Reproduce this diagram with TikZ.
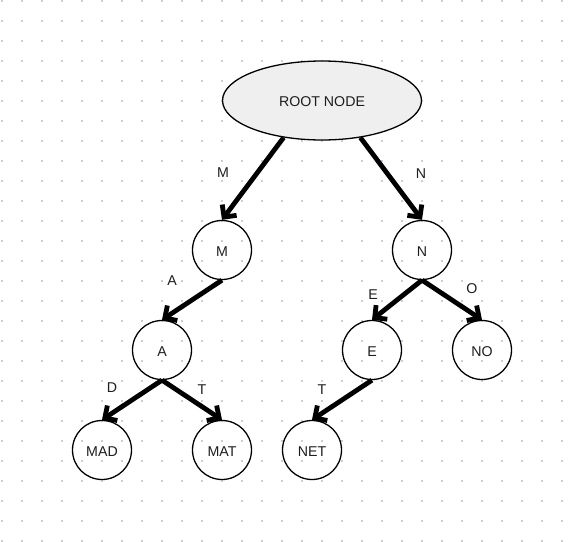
\documentclass[tikz,border=0pt]{standalone}
\usepackage{fontspec}
\setmainfont{Liberation Sans}
\usetikzlibrary{arrows.meta,shapes.geometric}
\definecolor{griddot}{HTML}{C9CDD9}
\definecolor{rootfill}{HTML}{F0EFF0}
\definecolor{inkgray}{HTML}{1E1E1E}
\begin{document}
\begin{tikzpicture}[x=1pt,y=-1pt,
  font=\fontsize{14.2}{16}\selectfont,
  every node/.style={text=inkgray},
  trienode/.style={circle,draw=black,line width=1.3pt,minimum size=59pt,inner sep=0pt},
  rootnode/.style={ellipse,draw=black,line width=1.3pt,fill=rootfill,
    minimum width=199pt,minimum height=79pt,inner sep=0pt},
  nodetext/.style={inner sep=0pt},
  link/.style={line width=4.8pt,
    -{Straight Barb[length=9pt,width=18pt]}},
  edgelabel/.style={inner sep=0pt}]
  % canvas and dotted grid
  \fill[white] (0,0) rectangle (581,541);
  \useasboundingbox (0,0) rectangle (581,541);
  \foreach \gx in {0,...,29}{
    \foreach \gy in {0,...,27}{
      \fill[griddot] ({1.8+20*\gx-1},{0.7+20*\gy-1}) rectangle ++(2,2);
    }
  }
  % nodes of the trie
  \node[rootnode] (root) at (322,100.5) {};
  \node[trienode] (m)   at (222,250) {};
  \node[trienode] (n)   at (422,250) {};
  \node[trienode] (a)   at (162,350) {};
  \node[trienode] (e)   at (372,350) {};
  \node[trienode] (no)  at (482,350) {};
  \node[trienode] (mad) at (102,450) {};
  \node[trienode] (mat) at (222,450) {};
  \node[trienode] (net) at (312,450) {};
  % node captions, set a little below centre
  \node[nodetext] (troot) at ([yshift=-1.5pt]root.center) {ROOT NODE};
  \node[nodetext] (tm)   at ([yshift=-1.5pt]m.center)   {M};
  \node[nodetext] (tn)   at ([yshift=-1.5pt]n.center)   {N};
  \node[nodetext] (ta)   at ([yshift=-1.5pt]a.center)   {A};
  \node[nodetext] (te)   at ([yshift=-1.5pt]e.center)   {E};
  \node[nodetext] (tno)  at ([yshift=-1.5pt]no.center)  {NO};
  \node[nodetext] (tmad) at ([yshift=-1.5pt]mad.center) {MAD};
  \node[nodetext] (tmat) at ([yshift=-1.5pt]mat.center) {MAT};
  \node[nodetext] (tnet) at ([yshift=-1.5pt]net.center) {NET};
  % branches
  \draw[link] (root.-136) -- (m.north);
  \draw[link] (root.-44)  -- (n.north);
  \draw[link] (m.south) -- (a.north);
  \draw[link] (a.south) -- (mad.north);
  \draw[link] (a.south) -- (mat.north);
  \draw[link] (n.south) -- (e.north);
  \draw[link] (n.south) -- (no.north);
  \draw[link] (e.south) -- (net.north);
  % branch letters
  \node[edgelabel] (lm)  at (223,173) {M};
  \node[edgelabel] (ln)  at (421,174) {N};
  \node[edgelabel] (la)  at (172,281) {A};
  \node[edgelabel] (le)  at (373,295) {E};
  \node[edgelabel] (lo)  at (472,289) {O};
  \node[edgelabel] (ld)  at (112,388) {D};
  \node[edgelabel] (lt1) at (202,390) {T};
  \node[edgelabel] (lt2) at (322,390) {T};
\end{tikzpicture}
\end{document}
